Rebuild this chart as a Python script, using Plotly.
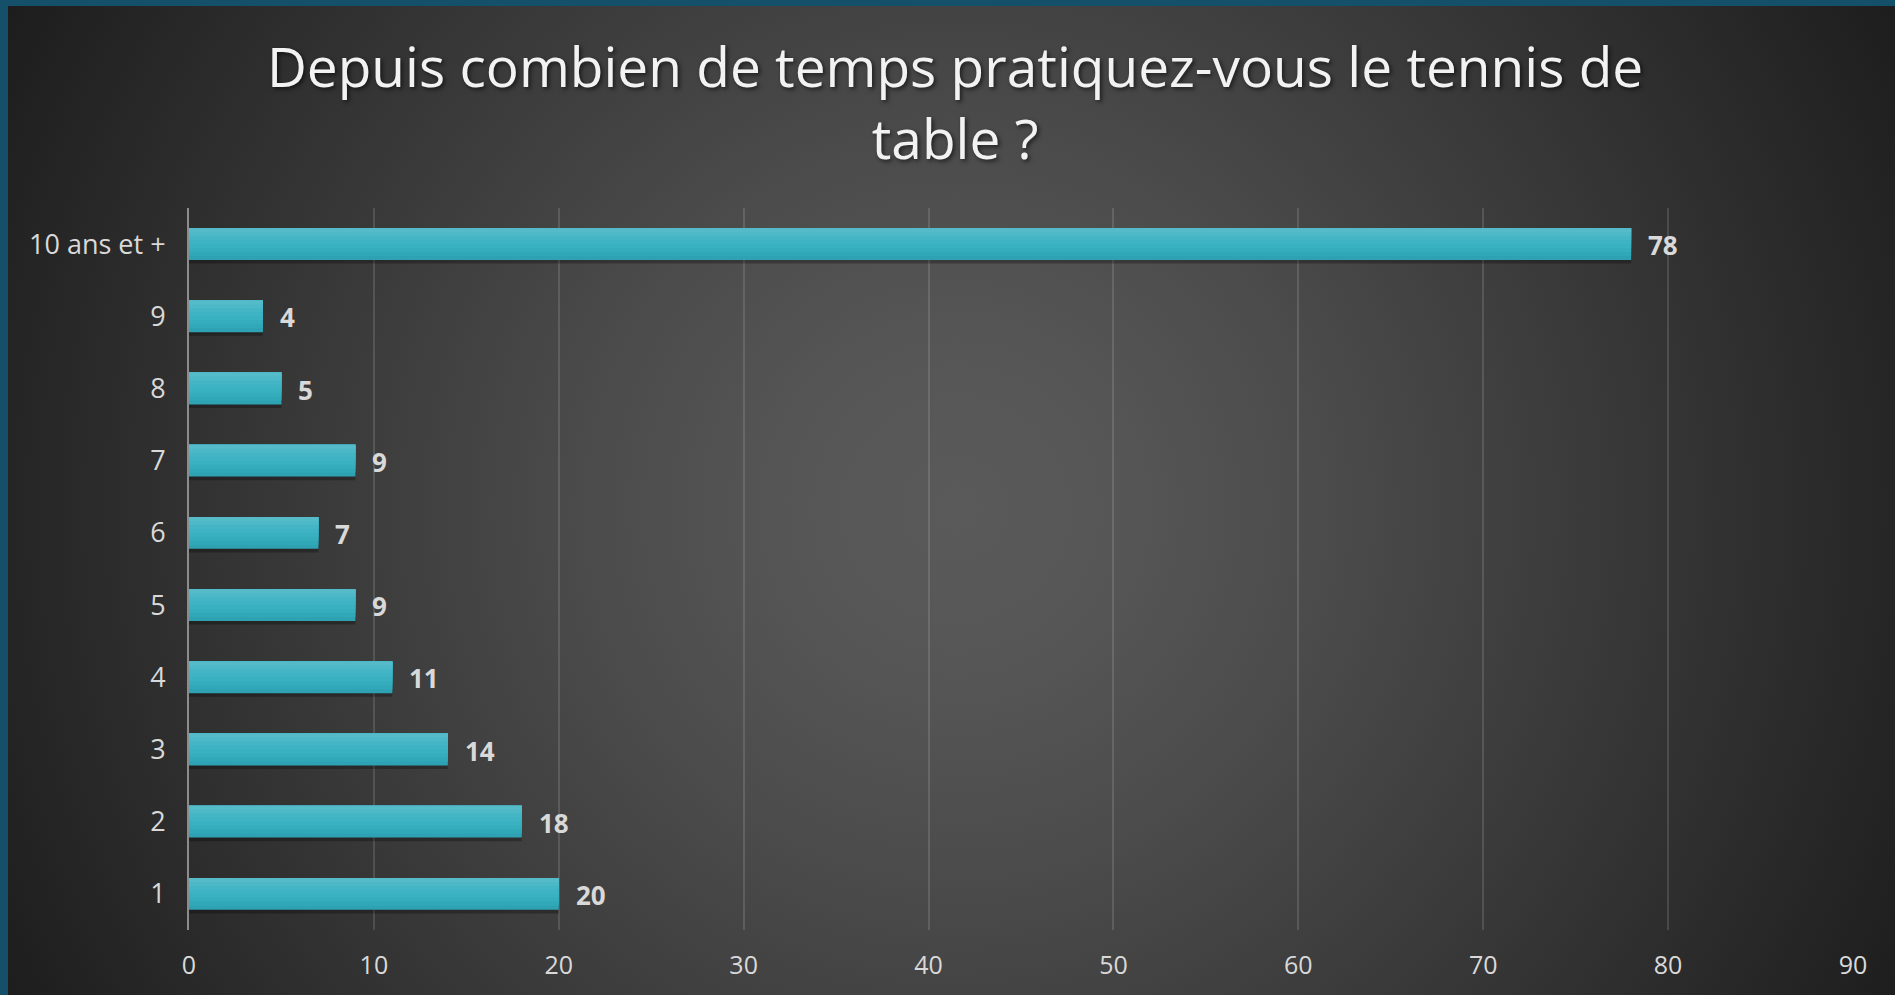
import base64
import plotly.graph_objects as go

# ---- data ----
categories = ["1", "2", "3", "4", "5", "6", "7", "8", "9", "10 ans et +"]
values = [20, 18, 14, 11, 9, 7, 9, 5, 4, 78]
x_ticks = [0, 10, 20, 30, 40, 50, 60, 70, 80, 90]
title_text = "Depuis combien de temps pratiquez-vous le tennis de<br>table ?"

# ---- layout geometry ----
W, H = 1895, 995
ML, MR, MT, MB = 189, 42, 208, 65
PW, PH = W - ML - MR, H - MT - MB

# radial-gradient background as an SVG image (style only)
bx0, by0 = 8, 6
bw, bh = W - bx0, H - by0
svg = f'''<svg xmlns="http://www.w3.org/2000/svg" width="{bw}" height="{bh}" viewBox="0 0 {bw} {bh}" preserveAspectRatio="none">
<defs><radialGradient id="g" gradientUnits="userSpaceOnUse" cx="{bw/2 + 4}" cy="{bh/2 + 8}" r="1070">
<stop offset="0" stop-color="#5a5a5a"/>
<stop offset="0.15" stop-color="#565656"/>
<stop offset="0.35" stop-color="#4b4b4b"/>
<stop offset="0.65" stop-color="#363636"/>
<stop offset="1" stop-color="#1d1d1d"/>
</radialGradient></defs>
<rect x="0" y="0" width="{bw}" height="{bh}" fill="url(#g)"/>
</svg>'''
svg_uri = "data:image/svg+xml;base64," + base64.b64encode(svg.encode()).decode()

# bar styling: vertical gradient emulated by overlapping bands (bottom -> top)
BAR_W = 0.44
band_colors = ["#2ea2b2", "#31a8b8", "#35adbd", "#39b1c1", "#3db3c3",
               "#44b5c5", "#4db8c7", "#56bbc9"]
n_bands = len(band_colors)
band_h = BAR_W / n_bands

fig = go.Figure()
# soft shadow under bars
fig.add_trace(go.Bar(
    x=values, y=categories, orientation="h",
    width=BAR_W, offset=-BAR_W / 2 - 0.05,
    marker=dict(color="rgba(0,0,0,0.28)", line=dict(width=0)),
    hoverinfo="skip",
))
for k, col in enumerate(band_colors):
    fig.add_trace(go.Bar(
        x=values, y=categories, orientation="h",
        width=BAR_W - k * band_h, offset=-BAR_W / 2 + k * band_h,
        marker=dict(color=col, line=dict(width=0)),
        hoverinfo="x+y" if k == 0 else "skip",
    ))

annotations = []
for i, v in enumerate(values):
    annotations.append(dict(
        x=v, y=i, xref="x", yref="y", text=str(v), showarrow=False,
        xanchor="left", yanchor="middle", xshift=15, yshift=-1,
        font=dict(family="Open Sans", size=26, color="#d9d9d9", weight="bold"),
    ))

fig.update_layout(
    width=W, height=H,
    margin=dict(l=ML, r=MR, t=MT, b=MB, autoexpand=False),
    paper_bgcolor="#15506b",
    plot_bgcolor="rgba(0,0,0,0)",
    showlegend=False,
    barmode="overlay",
    title=dict(
        text=title_text,
        x=0.504, xanchor="center",
        y=1 - 87 / H, yanchor="middle", yref="container",
        font=dict(family="Open Sans", size=55, color="#f2f2f2",
                  shadow="2px 2px 4px rgba(0,0,0,0.6)"),
    ),
    images=[dict(
        source=svg_uri, xref="paper", yref="paper",
        x=(bx0 - ML) / PW, y=(H - MB - by0) / PH,
        sizex=bw / PW, sizey=bh / PH,
        xanchor="left", yanchor="top", sizing="stretch", layer="below",
    )],
    xaxis=dict(
        range=[0, 90], tickvals=x_ticks, ticktext=[str(t) for t in x_ticks],
        showgrid=True, gridcolor="rgba(255,255,255,0.13)", gridwidth=2,
        zeroline=False, showline=False, ticks="",
        tickfont=dict(family="Open Sans", size=25, color="#d9d9d9"),
        ticklabelstandoff=18, fixedrange=True,
    ),
    yaxis=dict(
        type="category",
        showgrid=False, zeroline=False, showline=True,
        linecolor="#8c8c8c", linewidth=2, ticks="",
        tickfont=dict(family="Open Sans", size=27, color="#d9d9d9"),
        ticklabelstandoff=16, fixedrange=True,
        range=[-0.5, 9.5],
    ),
    annotations=annotations,
)

fig.write_html(
    "out.html",
    config={"displayModeBar": False},
    post_script="document.body.style.margin='0';document.body.style.overflow='hidden';",
)
